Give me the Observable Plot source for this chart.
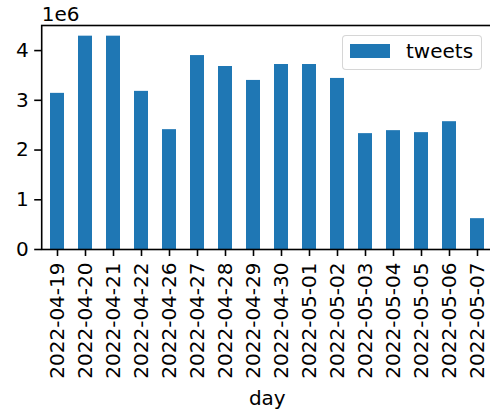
<!DOCTYPE html>
<html>
<head>
<meta charset="utf-8">
<script src="https://cdn.jsdelivr.net/npm/d3@7"></script>
<script src="https://cdn.jsdelivr.net/npm/@observablehq/plot@0.6"></script>
<style>
  html, body { margin: 0; padding: 0; background: white; overflow: hidden; }
  #wrap { position: relative; width: 490px; height: 410px; }
  #legend {
    position: absolute; left: 342px; top: 35px; width: 138px; height: 33px;
    border: 1.6px solid rgba(204,204,204,0.8); border-radius: 4px;
    background: rgba(255,255,255,0.8);
    font-family: "DejaVu Sans"; font-size: 20px; color: black;
  }
  #legend .sw { position: absolute; left: 7px; top: 7.5px; width: 40px; height: 14px; background: #1f77b4; }
  #legend .lb { position: absolute; left: 63px; top: 1px; line-height: 28px; }
</style>
</head>
<body>
<div id="wrap"></div>
<script>
const days = ["2022-04-19","2022-04-20","2022-04-21","2022-04-22","2022-04-26","2022-04-27","2022-04-28","2022-04-29","2022-04-30","2022-05-01","2022-05-02","2022-05-03","2022-05-04","2022-05-05","2022-05-06","2022-05-07"];
const tweets = [3140000, 4290000, 4290000, 3180000, 2410000, 3900000, 3680000, 3400000, 3720000, 3720000, 3440000, 2330000, 2390000, 2350000, 2570000, 620000];
const yTicks = [0, 1000000, 2000000, 3000000, 4000000];
const seriesName = "tweets";
const xLabel = "day";
const offsetText = "1e6";

const data = days.map((d, i) => ({day: d, tweets: tweets[i]}));
const yMax = d3.max(tweets) * 1.05;

const chart = Plot.plot({
  width: 490,
  height: 410,
  marginLeft: 41.2,
  marginRight: -2.4,
  marginTop: 25,
  marginBottom: 161,
  style: {fontSize: "20px", fontFamily: "DejaVu Sans", background: "white", color: "black"},
  x: {domain: days, paddingInner: 0.5, paddingOuter: 0.25, label: null},
  y: {domain: [0, yMax], label: null},
  marks: [
    Plot.barY(data, {x: "day", y: "tweets", fill: "#1f77b4"}),
    Plot.axisY({ticks: yTicks, tickFormat: d => d / 1e6, tickSize: 7, tickPadding: 6, strokeWidth: 1.6, label: null, fontSize: 20}),
    Plot.axisX({tickSize: 7, tickPadding: 6, tickRotate: -90, strokeWidth: 1.6, label: null, fontSize: 20}),
    Plot.frame({stroke: "black", strokeWidth: 1.6}),
    Plot.text([offsetText], {frameAnchor: "top-left", textAnchor: "start", lineAnchor: "bottom", dy: -5, fontSize: 20}),
    Plot.text([xLabel], {frameAnchor: "bottom", textAnchor: "middle", lineAnchor: "bottom", dy: 155, fontSize: 20})
  ]
});
const wrap = document.getElementById("wrap");
wrap.appendChild(chart);
const leg = document.createElement("div");
leg.id = "legend";
leg.innerHTML = `<div class="sw"></div><div class="lb">${seriesName}</div>`;
wrap.appendChild(leg);
</script>
</body>
</html>
